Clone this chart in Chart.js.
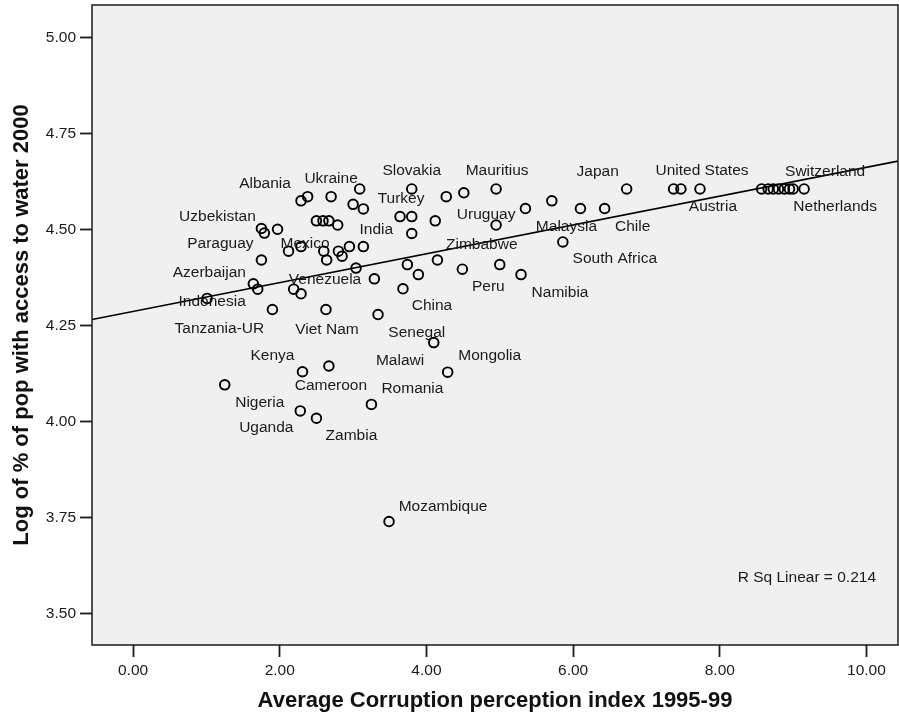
<!DOCTYPE html>
<html>
<head>
<meta charset="utf-8">
<script src="https://cdn.jsdelivr.net/npm/chart.js@4.4.1/dist/chart.umd.min.js"></script>
<style>
  html, body { margin: 0; padding: 0; background: #ffffff; }
  #wrap { width: 899px; height: 717px; }
</style>
</head>
<body>
<div id="wrap"><canvas id="chart" width="899" height="717"></canvas></div>
<script>
// Average corruption perception index 1995-99 per country
const cpiValues = [
  2.29, 2.38, 2.70, 3.09, 3.00, 3.14, 3.80, 4.27, 4.51, 4.95,
  3.64, 3.80, 4.12, 5.35, 5.71, 6.10, 6.43, 6.73, 7.37, 7.47,
  7.73, 8.57, 8.66, 8.73, 8.80, 8.88, 8.95, 9.00, 9.15, 3.80,
  4.95, 5.86, 1.75, 1.79, 1.97, 2.50, 2.59, 2.67, 2.79, 2.12,
  2.29, 2.60, 2.80, 2.85, 2.95, 3.14, 1.75, 2.64, 3.04, 3.74,
  4.15, 4.49, 5.00, 5.29, 3.29, 3.89, 3.68, 1.64, 1.70, 2.19,
  2.29, 1.01, 1.90, 2.63, 3.34, 4.10, 2.31, 2.67, 4.29, 1.25,
  3.25, 2.28, 2.50, 3.49
];

// Log of % of population with access to water, 2000
const waterLogValues = [
  4.574, 4.585, 4.585, 4.605, 4.565, 4.553, 4.605, 4.585, 4.595, 4.605,
  4.533, 4.533, 4.522, 4.554, 4.574, 4.554, 4.554, 4.605, 4.605, 4.605,
  4.605, 4.605, 4.605, 4.605, 4.605, 4.605, 4.605, 4.605, 4.605, 4.489,
  4.511, 4.467, 4.502, 4.490, 4.500, 4.522, 4.522, 4.522, 4.511, 4.443,
  4.455, 4.443, 4.443, 4.430, 4.455, 4.455, 4.420, 4.420, 4.399, 4.408,
  4.420, 4.396, 4.408, 4.382, 4.371, 4.382, 4.345, 4.358, 4.344, 4.344,
  4.332, 4.320, 4.291, 4.291, 4.278, 4.205, 4.129, 4.144, 4.128, 4.095,
  4.044, 4.027, 4.008, 3.739
];

// Case labels (empty = unlabelled case)
const countryNames = [
  "Albania", "", "Ukraine", "", "", "", "Slovakia", "", "", "Mauritius",
  "Turkey", "", "", "", "", "Malaysia", "Chile", "Japan", "", "Austria",
  "United States", "", "", "", "", "", "", "Netherlands", "Switzerland", "",
  "Uruguay", "South Africa", "Uzbekistan", "", "", "", "", "", "", "",
  "Mexico", "", "", "", "", "India", "Paraguay", "", "", "",
  "", "Peru", "Zimbabwe", "Namibia", "", "", "China", "Azerbaijan", "", "",
  "Venezuela", "Indonesia", "Tanzania-UR", "Viet Nam", "Malawi", "Senegal", "Kenya", "Cameroon", "Mongolia", "Nigeria",
  "Romania", "Uganda", "Zambia", "Mozambique"
];

const xTickValues = [0, 2, 4, 6, 8, 10];
const yTickValues = [3.50, 3.75, 4.00, 4.25, 4.50, 4.75, 5.00];
const rSquaredLinear = 0.214;

// Where each case label sits relative to its marker (pixels, text centre)
const labelPlacement = {
  "Albania": [-36, -17], "Ukraine": [0, -18], "Slovakia": [0, -18], "Mauritius": [1, -18],
  "Turkey": [1, -18], "Malaysia": [-14, 18], "Chile": [28, 18], "Japan": [-29, -17],
  "Austria": [32, 18], "United States": [2, -18], "Netherlands": [42, 18], "Switzerland": [21, -17],
  "Uruguay": [-10, -10], "South Africa": [52, 17], "Uzbekistan": [-44, -12], "Mexico": [4, -3],
  "India": [13, -17], "Paraguay": [-41, -16], "Peru": [26, 18], "Zimbabwe": [-18, -20],
  "Namibia": [39, 18], "China": [29, 17], "Azerbaijan": [-44, -11], "Venezuela": [24, -14],
  "Indonesia": [5, 3], "Tanzania-UR": [-53, 19], "Viet Nam": [1, 20], "Malawi": [22, 46],
  "Senegal": [-17, -10], "Kenya": [-30, -16], "Cameroon": [2, 20], "Mongolia": [42, -16],
  "Nigeria": [35, 18], "Romania": [41, -16], "Uganda": [-34, 17], "Zambia": [35, 17],
  "Mozambique": [54, -15]
};

const X_MIN = -0.56, X_MAX = 10.43;
const Y_MIN = 3.4175, Y_MAX = 5.084;
const FONT = "'Liberation Sans', Arial, sans-serif";

// Ordinary least squares fit of water access on CPI
function linearFit(xs, ys) {
  const n = xs.length;
  const mx = xs.reduce((a, b) => a + b, 0) / n;
  const my = ys.reduce((a, b) => a + b, 0) / n;
  let sxy = 0, sxx = 0;
  for (let i = 0; i < n; i++) {
    sxy += (xs[i] - mx) * (ys[i] - my);
    sxx += (xs[i] - mx) * (xs[i] - mx);
  }
  const slope = sxy / sxx;
  return { slope, intercept: my - slope * mx };
}
const fit = linearFit(cpiValues, waterLogValues);

const points = cpiValues.map((x, i) => ({ x, y: waterLogValues[i] }));
const fitLine = [X_MIN, X_MAX].map(x => ({ x, y: fit.intercept + fit.slope * x }));

const plotBackground = {
  id: 'plotBackground',
  beforeDatasetsDraw(chart) {
    const { ctx, chartArea: a } = chart;
    ctx.save();
    ctx.fillStyle = '#f0f0f0';
    ctx.fillRect(a.left, a.top, a.right - a.left, a.bottom - a.top);
    ctx.restore();
  },
  afterDatasetsDraw(chart) {
    const { ctx, chartArea: a } = chart;
    ctx.save();
    ctx.strokeStyle = '#1a1a1a';
    ctx.lineWidth = 1.5;
    ctx.strokeRect(a.left, a.top, a.right - a.left, a.bottom - a.top);
    ctx.restore();
  }
};

const caseLabels = {
  id: 'caseLabels',
  afterDatasetsDraw(chart) {
    const { ctx, chartArea: a } = chart;
    const xs = chart.scales.x, ys = chart.scales.y;
    ctx.save();
    ctx.font = `15.5px ${FONT}`;
    ctx.fillStyle = '#1a1a1a';
    ctx.textAlign = 'center';
    ctx.textBaseline = 'middle';
    countryNames.forEach((name, i) => {
      if (!name) return;
      const off = labelPlacement[name] || [0, -16];
      const px = xs.getPixelForValue(cpiValues[i]) + off[0];
      const py = ys.getPixelForValue(waterLogValues[i]) + off[1];
      ctx.fillText(name, px, py);
    });
    // fit statistic
    ctx.textAlign = 'right';
    ctx.fillText(`R Sq Linear = ${rSquaredLinear.toFixed(3)}`, a.right - 22, a.bottom - 67);
    ctx.restore();
  }
};

const axisTitles = {
  id: 'axisTitles',
  afterDraw(chart) {
    const { ctx, chartArea: a } = chart;
    ctx.save();
    ctx.font = `bold 22px ${FONT}`;
    ctx.fillStyle = '#111';
    ctx.textAlign = 'center';
    ctx.textBaseline = 'middle';
    ctx.fillText('Average Corruption perception index 1995-99', (a.left + a.right) / 2, 701);
    ctx.translate(22, (a.top + a.bottom) / 2);
    ctx.rotate(-Math.PI / 2);
    ctx.fillText('Log of % of pop with access to water 2000', 0, 0);
    ctx.restore();
  }
};

function noEdgePadding(s) {
  s.paddingTop = 0; s.paddingBottom = 0; s.paddingLeft = 0; s.paddingRight = 0;
}

new Chart(document.getElementById('chart'), {
  type: 'scatter',
  data: {
    datasets: [
      {
        data: points,
        pointStyle: 'circle',
        pointRadius: 4.8,
        pointHoverRadius: 4.8,
        pointBorderWidth: 1.9,
        pointBorderColor: '#000',
        pointBackgroundColor: 'rgba(0,0,0,0)',
        order: 1
      },
      {
        type: 'line',
        data: fitLine,
        borderColor: '#000',
        borderWidth: 1.6,
        pointRadius: 0,
        fill: false,
        order: 2
      }
    ]
  },
  options: {
    responsive: false,
    animation: false,
    events: [],
    layout: { autoPadding: false, padding: { top: 5, right: 1, left: 0, bottom: 0 } },
    plugins: { legend: { display: false }, tooltip: { enabled: false } },
    scales: {
      x: {
        type: 'linear',
        min: X_MIN, max: X_MAX,
        afterBuildTicks: s => { s.ticks = xTickValues.map(v => ({ value: v })); },
        afterFit: s => { s.height = 72; noEdgePadding(s); },
        border: { display: false },
        grid: { drawOnChartArea: false, drawTicks: true, tickLength: 12, tickColor: '#1a1a1a', tickWidth: 1.8 },
        ticks: {
          padding: 4, color: '#1a1a1a', maxRotation: 0,
          font: { family: FONT, size: 15.5 },
          callback: v => Number(v).toFixed(2)
        }
      },
      y: {
        type: 'linear',
        min: Y_MIN, max: Y_MAX,
        afterBuildTicks: s => { s.ticks = yTickValues.map(v => ({ value: v })); },
        afterFit: s => { s.width = 92; noEdgePadding(s); },
        border: { display: false },
        grid: { drawOnChartArea: false, drawTicks: true, tickLength: 12, tickColor: '#1a1a1a', tickWidth: 1.8 },
        ticks: {
          padding: 4, color: '#1a1a1a',
          font: { family: FONT, size: 15.5 },
          callback: v => Number(v).toFixed(2)
        }
      }
    }
  },
  plugins: [plotBackground, caseLabels, axisTitles]
});
</script>
</body>
</html>
